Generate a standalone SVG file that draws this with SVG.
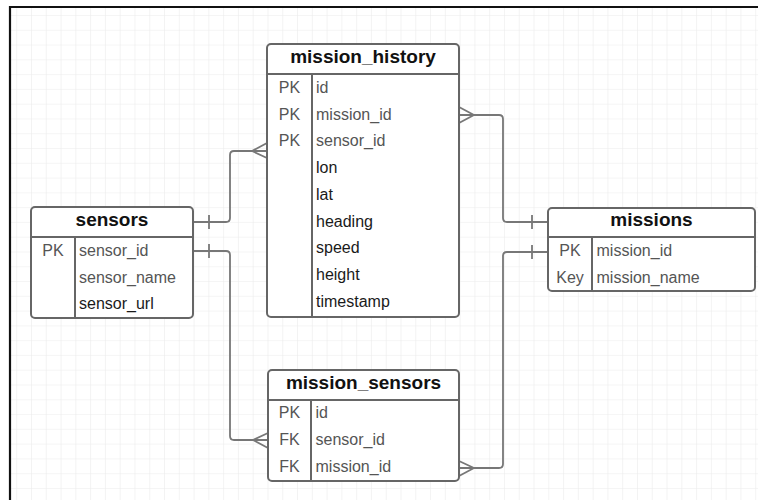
<svg xmlns="http://www.w3.org/2000/svg" width="758" height="500" viewBox="0 0 758 500">
<defs>
<pattern id="grid" width="14.78" height="14.78" patternUnits="userSpaceOnUse" x="1.44" y="0.22">
<path d="M0 0H14.78M0 0V14.78" fill="none" stroke="#ebebeb" stroke-width="1.2"/>
</pattern>
<style>
.box{fill:#fff;stroke:#666;stroke-width:2}
.ln{stroke:#666;stroke-width:2;fill:none}
.title{font-family:"Liberation Sans",Arial,sans-serif;font-size:19px;font-weight:bold;fill:#111;text-anchor:middle}
.key{font-family:"Liberation Sans",Arial,sans-serif;font-size:16px;fill:#555;text-anchor:middle}
.f{font-family:"Liberation Sans",Arial,sans-serif;font-size:16px;fill:#555}
.fb{font-family:"Liberation Sans",Arial,sans-serif;font-size:16px;fill:#1a1a1a}
.con{stroke:#777;stroke-width:1.8;fill:none;stroke-linejoin:round}
</style>
</defs>
<rect x="0" y="0" width="758" height="500" fill="#fff"/>
<rect x="10" y="7" width="748" height="493" fill="url(#grid)"/>
<path d="M10 500V7H758" fill="none" stroke="#111" stroke-width="2.2"/>

<g id="connectors">
<!-- sensors header -> mission_history -->
<path class="con" d="M193 222H226Q230 222 230 218V155Q230 151 234 151H267"/>
<path class="con" d="M209 215V229"/>
<path class="con" d="M267 143L252 151L267 158"/>
<!-- sensors.sensor_id -> mission_sensors.sensor_id -->
<path class="con" d="M193 251H226Q230 251 230 255V436Q230 440 234 440H268"/>
<path class="con" d="M209 244V258"/>
<path class="con" d="M268 433L253 440L268 448"/>
<!-- mission_history.mission_id -> missions header -->
<path class="con" d="M459 115H499Q503 115 503 119V218Q503 222 507 222H548"/>
<path class="con" d="M459 107L474 115L459 123"/>
<path class="con" d="M532 215V229"/>
<!-- missions.mission_id -> mission_sensors.mission_id -->
<path class="con" d="M548 252H507Q503 252 503 256V464Q503 468 499 468H459"/>
<path class="con" d="M532 245V259"/>
<path class="con" d="M459 461L474 468L459 476"/>
</g>

<g id="mission_history">
<rect class="box" x="267" y="44" width="192" height="273" rx="4"/>
<path class="ln" d="M267 74H459M312 74V317"/>
<text class="title" x="363" y="63">mission_history</text>
<text class="key" x="289.5" y="93">PK</text>
<text class="key" x="289.5" y="119.7">PK</text>
<text class="key" x="289.5" y="146.4">PK</text>
<text class="f" x="316" y="93">id</text>
<text class="f" x="316" y="119.7">mission_id</text>
<text class="f" x="316" y="146.4">sensor_id</text>
<text class="fb" x="316" y="173.1">lon</text>
<text class="fb" x="316" y="199.8">lat</text>
<text class="fb" x="316" y="226.5">heading</text>
<text class="fb" x="316" y="253.2">speed</text>
<text class="fb" x="316" y="279.9">height</text>
<text class="fb" x="316" y="306.6">timestamp</text>
</g>

<g id="sensors">
<rect class="box" x="31" y="207" width="162" height="111" rx="4"/>
<path class="ln" d="M31 237H193M75 237V318"/>
<text class="title" x="112" y="226">sensors</text>
<text class="key" x="53" y="255.5">PK</text>
<text class="f" x="79" y="255.5">sensor_id</text>
<text class="f" x="79" y="282.5">sensor_name</text>
<text class="fb" x="79" y="309">sensor_url</text>
</g>

<g id="missions">
<rect class="box" x="548" y="208" width="207" height="83" rx="4"/>
<path class="ln" d="M548 237H755M592 237V291"/>
<text class="title" x="651.5" y="226">missions</text>
<text class="key" x="570" y="255.5">PK</text>
<text class="key" x="570" y="282.5">Key</text>
<text class="f" x="596.5" y="255.5">mission_id</text>
<text class="f" x="596.5" y="282.5">mission_name</text>
</g>

<g id="mission_sensors">
<rect class="box" x="268" y="370" width="191" height="111" rx="4"/>
<path class="ln" d="M268 400H459M311 400V481"/>
<text class="title" x="363.5" y="389">mission_sensors</text>
<text class="key" x="289.5" y="418">PK</text>
<text class="key" x="289.5" y="445">FK</text>
<text class="key" x="289.5" y="472">FK</text>
<text class="f" x="315.5" y="418">id</text>
<text class="f" x="315.5" y="445">sensor_id</text>
<text class="f" x="315.5" y="472">mission_id</text>
</g>
</svg>
